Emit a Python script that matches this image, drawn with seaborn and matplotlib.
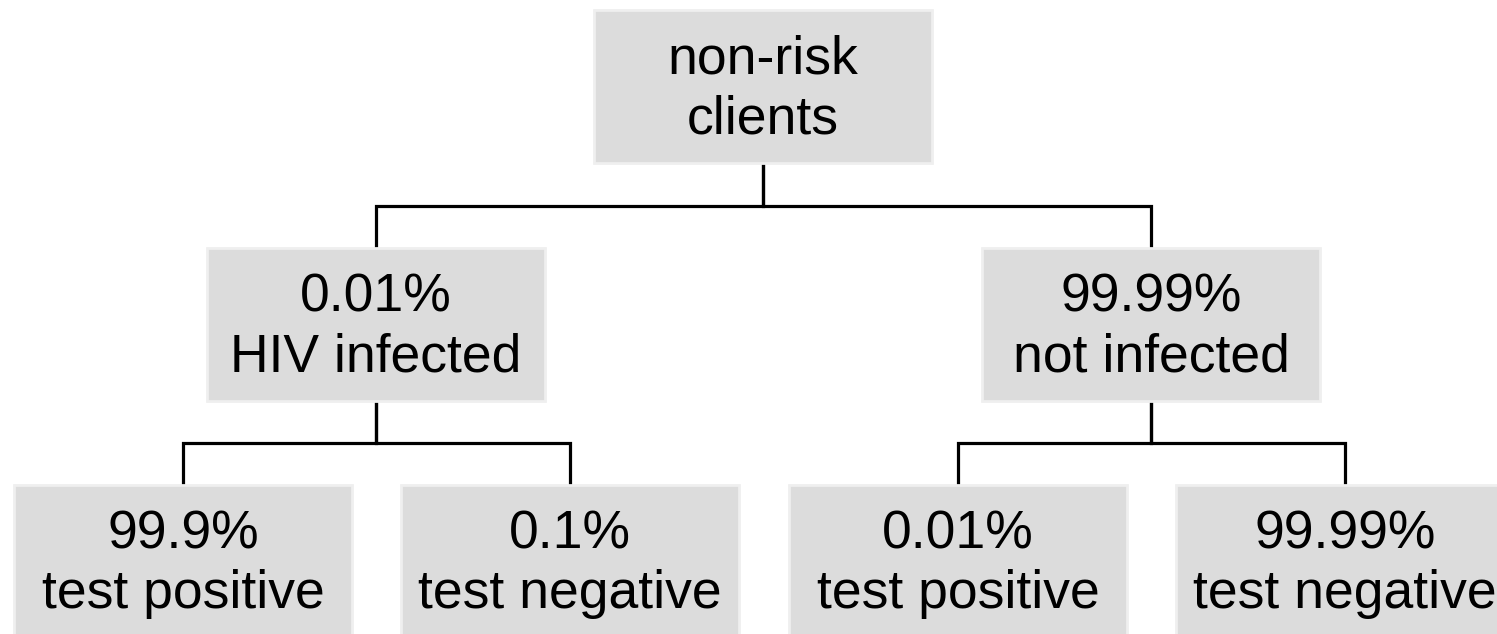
import matplotlib
matplotlib.use("Agg")
import matplotlib.pyplot as plt
from matplotlib.patches import Rectangle
import seaborn as sns

# tree nodes
labels = ["non-risk\nclients",
          "0.01%\nHIV infected", "99.99%\nnot infected",
          "99.9%\ntest positive", "0.1%\ntest negative",
          "0.01%\ntest positive", "99.99%\ntest negative"]
parents = [None, 0, 0, 1, 1, 2, 2]
levels = [0, 1, 1, 2, 2, 2, 2]

# layout (pixel space)
node_x = [763, 376, 1151, 183, 570, 958, 1345]
level_top = [10, 248, 485]
box_w, box_h = 338, 153

sns.set_theme(style="white")
plt.rcParams['font.family'] = ['Liberation Sans', 'DejaVu Sans']

fig = plt.figure(figsize=(14.97, 6.34), dpi=100)
ax = fig.add_axes([0, 0, 1, 1])
ax.set_xlim(0, 1497)
ax.set_ylim(634, 0)
ax.axis("off")

for i, lab in enumerate(labels):
    top = level_top[levels[i]]
    ax.add_patch(Rectangle((node_x[i] - box_w / 2, top), box_w, box_h,
                           facecolor="#dcdcdc", edgecolor="#efefef", lw=2, zorder=2))
    ax.text(node_x[i], top + box_h / 2 + 3, lab, ha="center", va="center",
            fontsize=38.5, linespacing=1.25, color="black", zorder=3)

# connectors
for i, p in enumerate(parents):
    if p is None:
        continue
    pbot = level_top[levels[p]] + box_h
    ctop = level_top[levels[i]]
    mid = (pbot + ctop) / 2
    ax.plot([node_x[p], node_x[p], node_x[i], node_x[i]], [pbot, mid, mid, ctop],
            color="black", lw=2.3, solid_joinstyle="miter", zorder=1)

fig.savefig("out.png", dpi=100)
